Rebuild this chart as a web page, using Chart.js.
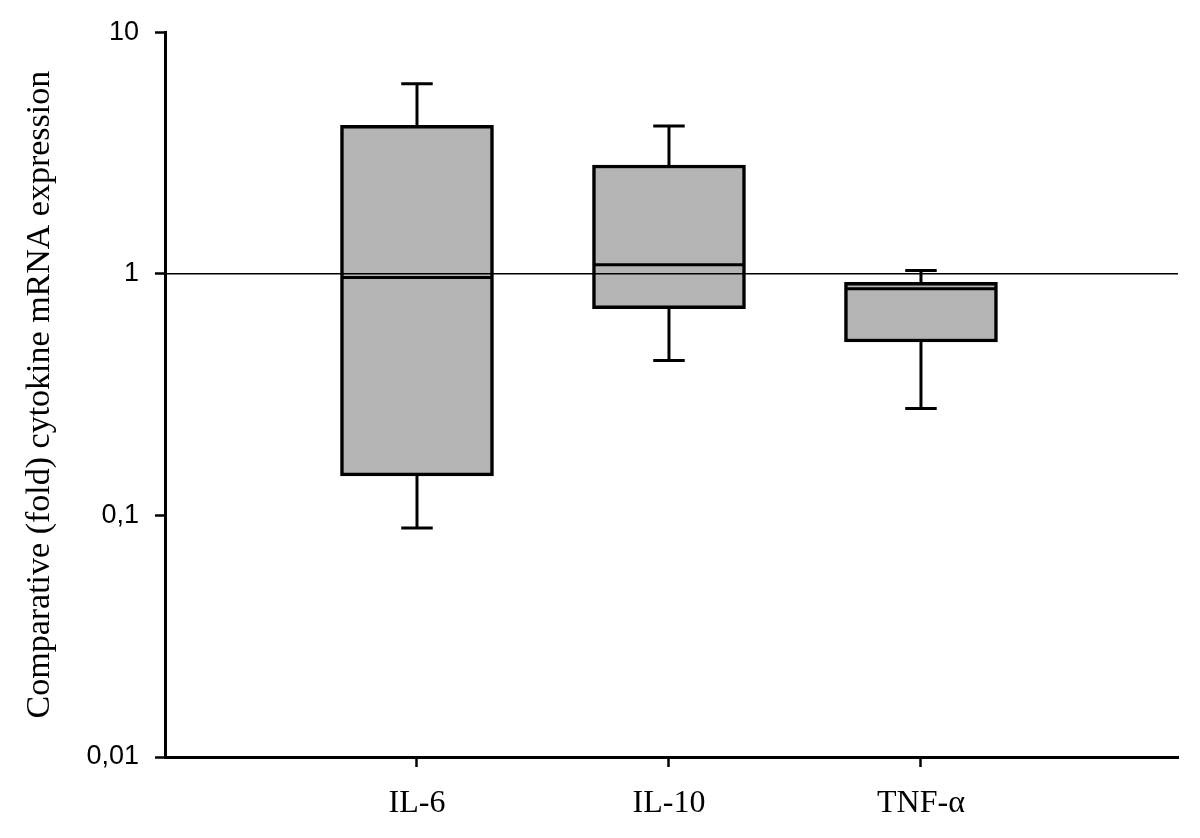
<!DOCTYPE html>
<html>
<head>
<meta charset="utf-8">
<script src="https://cdn.jsdelivr.net/npm/chart.js@4/dist/chart.umd.min.js"></script>
<style>
  html, body { margin: 0; padding: 0; background: #ffffff; }
  #wrap { width: 1200px; height: 838px; }
</style>
</head>
<body>
<div id="wrap"><canvas id="c" width="1200" height="838"></canvas></div>
<script>
// ---- data ----
const categories   = ['IL-6', 'IL-10', 'TNF-\u03B1'];
const whiskerLow   = [0.0887, 0.4375, 0.277];
const quartile1    = [0.1457, 0.717, 0.522];
const median       = [0.965, 1.089, 0.867];
const quartile3    = [4.12, 2.82, 0.923];
const whiskerHigh  = [6.12, 4.09, 1.032];
const yTickValues  = [0.01, 0.1, 1, 10];
const yTickLabels  = ['0,01', '0,1', '1', '10'];
const referenceValue = 1;

// ---- geometry (category units on a linear axis) ----
const xMin = 0, xMax = 4.02;
const boxHalf = 0.3016;
const capHalf = 0.0625;
const pos = categories.map((_, i) => i + 1);

const boxData = pos.map((x, i) => ({ x: x, y: [quartile1[i], quartile3[i]] }));

const whiskerData = [];
const capData = [];
const medianData = [];
pos.forEach((x, i) => {
  whiskerData.push({x: x, y: quartile3[i]}, {x: x, y: whiskerHigh[i]}, {x: x, y: null});
  whiskerData.push({x: x, y: quartile1[i]}, {x: x, y: whiskerLow[i]}, {x: x, y: null});
  capData.push({x: x - capHalf, y: whiskerHigh[i]}, {x: x + capHalf, y: whiskerHigh[i]}, {x: x, y: null});
  capData.push({x: x - capHalf, y: whiskerLow[i]}, {x: x + capHalf, y: whiskerLow[i]}, {x: x, y: null});
  medianData.push({x: x - boxHalf, y: median[i]}, {x: x + boxHalf, y: median[i]}, {x: x, y: null});
});
const refData = [{x: xMin, y: referenceValue}, {x: xMax, y: referenceValue}];

const lineBase = { type: 'line', borderColor: '#000', pointRadius: 0, pointHoverRadius: 0, fill: false, tension: 0, spanGaps: false };

new Chart(document.getElementById('c'), {
  type: 'bar',
  data: {
    datasets: [
      Object.assign({}, lineBase, { label: 'reference', data: refData, borderWidth: 1.5, order: 0 }),
      Object.assign({}, lineBase, { label: 'median', data: medianData, borderWidth: 3, order: 1 }),
      Object.assign({}, lineBase, { label: 'caps', data: capData, borderWidth: 3, order: 2 }),
      Object.assign({}, lineBase, { label: 'whiskers', data: whiskerData, borderWidth: 3, order: 3 }),
      {
        type: 'bar', label: 'box', data: boxData,
        backgroundColor: '#b4b4b4', borderColor: '#000', borderWidth: 3.5,
        borderSkipped: false, barThickness: 153, order: 4
      }
    ]
  },
  options: {
    responsive: false,
    animation: false,
    events: [],
    layout: { padding: { top: 30, right: 22, left: 0, bottom: 0 } },
    plugins: { legend: { display: false }, tooltip: { enabled: false } },
    scales: {
      x: {
        type: 'linear', min: xMin, max: xMax, offset: false,
        afterFit: s => { s.height = 81; },
        afterBuildTicks: s => { s.ticks = pos.map(v => ({ value: v })); },
        grid: { drawOnChartArea: false, drawTicks: true, tickLength: 10, tickColor: '#000', tickWidth: 2.5, offset: false },
        border: { display: true, color: '#000', width: 3 },
        ticks: {
          autoSkip: false, maxRotation: 0, padding: 17, color: '#000',
          font: { family: '"Liberation Serif", "Times New Roman", serif', size: 32 },
          callback: v => categories[Math.round(v) - 1] || ''
        }
      },
      y: {
        type: 'logarithmic', min: 0.01, max: 10,
        afterFit: s => { s.width = 165; },
        afterBuildTicks: s => { s.ticks = yTickValues.map(v => ({ value: v })); },
        grid: { drawOnChartArea: false, drawTicks: true, tickLength: 10, tickColor: '#000', tickWidth: 2.5 },
        border: { display: true, color: '#000', width: 3 },
        ticks: {
          autoSkip: false, padding: 16, color: '#000',
          font: { family: '"Liberation Sans", Arial, sans-serif', size: 27 },
          callback: v => { const k = yTickValues.findIndex(t => Math.abs(t - v) < v * 1e-6); return k >= 0 ? yTickLabels[k] : ''; }
        },
        title: {
          display: true, text: 'Comparative (fold) cytokine mRNA expression', color: '#000',
          font: { family: '"Liberation Serif", "Times New Roman", serif', size: 34, weight: 'normal' },
          padding: { top: 20, bottom: 0 }
        }
      }
    }
  }
});
</script>
</body>
</html>
